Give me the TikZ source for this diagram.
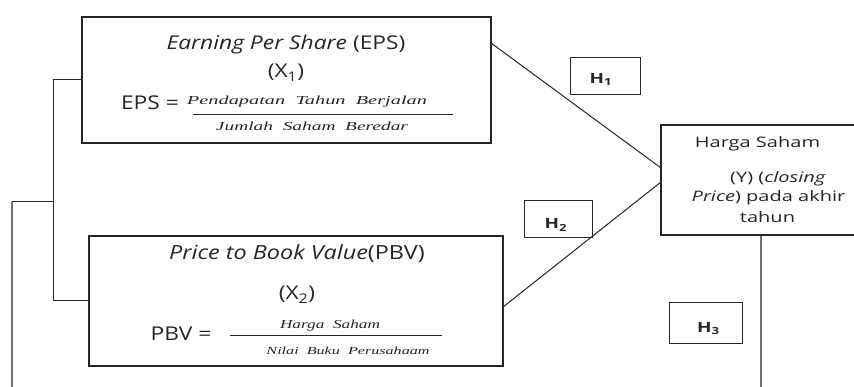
\documentclass[tikz,border=0pt]{standalone}
\usepackage{fontspec}
\setmainfont{Open Sans}
\newfontfamily\fracfont{Liberation Serif}
\newcommand{\wideA}[1]{\scalebox{1.2}[1]{#1}}
\newcommand{\wideB}[1]{\scalebox{1.38}[1]{#1}}
\newcommand{\wideH}[1]{\scalebox{1.35}[1]{#1}}
\begin{document}
\begin{tikzpicture}[x=1pt,y=-1pt,
  box/.style={draw=black!85,line width=1.1pt,inner sep=0pt},
  hbox/.style={draw=black!85,line width=1pt,inner sep=0pt},
  hlab/.style={inner sep=0pt,anchor=base,font=\fontsize{14}{16}\selectfont\bfseries,text=black!85},
  conn/.style={draw=black!85,line width=1pt},
  gconn/.style={draw=black!55,line width=1.6pt},
  txt/.style={inner sep=0pt,anchor=base,font=\fontsize{19}{22}\selectfont,text=black!85},
  ytxt/.style={inner sep=0pt,anchor=base,font=\fontsize{14.5}{17}\selectfont,text=black!85},
  frac/.style={inner sep=0pt,anchor=base,font=\fracfont\itshape,text=black!85}]
\clip (0,0) rectangle (854,387);
\fill[white] (0,0) rectangle (854,387);
% main boxes
\node[box,minimum width=409pt,minimum height=126pt] (eps) at (286.5,80) {};
\node[box,minimum width=414pt,minimum height=130pt] (pbv) at (296,301) {};
\node[box,minimum width=200pt,minimum height=110pt] (ybox) at (761,180) {};
% hypothesis boxes
\node[hbox,minimum width=70pt,minimum height=37pt] (h1) at (605,76.5) {};
\node[hbox,minimum width=68pt,minimum height=37pt] (h2) at (558,219.5) {};
\node[hbox,minimum width=73pt,minimum height=40pt] (h3) at (705.5,323) {};
\node[hlab] (h1t) at (601,83.5) {\wideH{H\textsubscript{1}}};
\node[hlab] (h2t) at (556,229) {\wideH{H\textsubscript{2}}};
\node[hlab] (h3t) at (708.5,332.5) {\wideH{H\textsubscript{3}}};
% texts box 1
\node[txt] (t1) at (286,50) {\wideA{\textit{Earning Per Share} (EPS)}};
\node[txt] (t2) at (286,78) {\wideA{(X\textsubscript{1})}};
\node[txt] (t3) at (150,110) {\wideA{EPS =}};
\node[frac] (n1) at (307,105) {\resizebox{240pt}{8.5pt}{Pendapatan\ \ Tahun\ \ Berjalan}};
\node[frac] (d1) at (312,131) {\resizebox{192pt}{8.5pt}{Jumlah\ \ Saham\ \ Beredar}};
\draw[conn] (193,115) coordinate (b1l) -- (453,115) coordinate (b1r);
% texts box 2
\node[txt,font=\fontsize{19.5}{22}\selectfont] (t4) at (297,260) {\wideA{\textit{Price to Book Value}(PBV)}};
\node[txt] (t5) at (297,300) {\wideA{(X\textsubscript{2})}};
\node[txt] (t6) at (181,340) {\wideA{PBV =}};
\node[frac] (n2) at (330,328) {\resizebox{100pt}{8.5pt}{Harga\ \ Saham}};
\node[frac] (d2) at (348,355) {\resizebox{163pt}{7.5pt}{Nilai\ \ Buku\ \ Perusahaam}};
\draw[conn] (230,335) coordinate (b2l) -- (442,335) coordinate (b2r);
% texts Y box
\node[ytxt] (y1) at (757.5,148) {\wideB{Harga Saham}};
\node[ytxt] (y2) at (778,183) {\wideB{(Y) (\textit{closing}}};
\node[ytxt] (y3) at (768.5,202) {\wideB{\textit{Price}) pada akhir}};
\node[ytxt] (y4) at (767.5,223) {\wideB{tahun}};
% connectors
\coordinate (e1) at (491,43);
\coordinate (y1in) at (661,168);
\coordinate (p1) at (503,307);
\coordinate (y2in) at (661,182);
\draw[conn] (e1) -- (y1in);
\draw[conn] (p1) -- (y2in);
\coordinate (bt) at (53,80);
\coordinate (bm) at (53,202);
\coordinate (bb) at (53,301);
\coordinate (ol) at (12,202);
\coordinate (olb) at (12,390);
\draw[conn] (eps.west) -- (bt) -- (bb) -- (pbv.west);
\draw[conn] (bm) -- (ol);
\draw[gconn] (ol) -- (olb);
\coordinate (yb) at (761,390);
\draw[gconn] (ybox.south) -- (yb);
\end{tikzpicture}
\end{document}
